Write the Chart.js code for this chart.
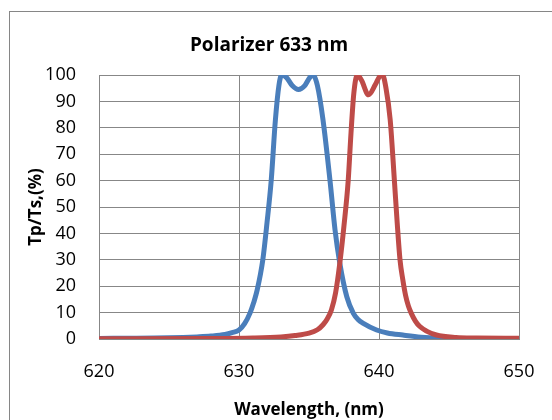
<!DOCTYPE html>
<html>
<head>
<meta charset="utf-8">
<script src="https://cdn.jsdelivr.net/npm/chart.js@4.4.0/dist/chart.umd.min.js"></script>
<style>
  html, body { margin: 0; padding: 0; background: #fff; }
</style>
</head>
<body>
<canvas id="polChart" width="552" height="420"></canvas>
<script>
// values
var blueNm = [620, 622, 624, 626, 627, 628, 629, 629.5, 630, 630.4, 630.8, 631.05, 631.3, 631.7, 632, 632.3, 632.6, 632.85, 633.05, 633.4, 633.8, 634.25, 634.7, 635.05, 635.3, 635.6, 636, 636.5, 636.86, 637.2, 637.7, 638.17, 638.5, 638.88, 639.83, 640.6, 641.7, 643, 644.4, 646, 648, 650];
var blueT  = [0.2, 0.3, 0.4, 0.6, 0.8, 1.1, 1.7, 2.4, 3.4, 5.8, 10, 13.8, 18.6, 30, 44, 60, 83, 96, 100, 99, 96, 94.5, 96, 99, 100, 96, 83, 60, 41.3, 28.7, 16, 9.7, 7.4, 5.9, 3.4, 2.3, 1.5, 0.7, 0.3, 0.2, 0.15, 0.1];

var redNm = [620, 628, 631, 633, 634, 635, 635.6, 636, 636.3, 636.6, 636.9, 637.2, 637.5, 637.8, 638, 638.2, 638.45, 638.75, 639.25, 639.75, 640.05, 640.25, 640.5, 640.8, 641.1, 641.3, 641.5, 641.7, 641.9, 642.1, 642.3, 642.6, 642.9, 643.4, 644.1, 645.5, 647, 650];
var redT  = [0.1, 0.2, 0.4, 0.8, 1.3, 2.2, 3.5, 5.4, 7.6, 11, 17.5, 28.7, 43, 60, 78, 93, 100, 98, 92.5, 96.5, 99.5, 100, 95, 83, 60, 44, 30, 22.5, 16.5, 12.5, 9.8, 6.8, 4.8, 3, 1.5, 0.6, 0.4, 0.3];

var xTicks = [620, 630, 640, 650];
var yTicks = [0, 10, 20, 30, 40, 50, 60, 70, 80, 90, 100];

function toPoints(xs, ys) {
  var pts = [];
  for (var i = 0; i < xs.length; i++) {
    pts.push({ x: xs[i], y: ys[i] });
  }
  return pts;
}

// grey frame round the whole chart
var frame = {
  id: 'frame',
  beforeDraw: function (chart) {
    var c = chart.ctx;
    c.save();
    c.strokeStyle = '#868686';
    c.lineWidth = 1;
    c.strokeRect(9.5, 11.5, 600, 500);
    c.restore();
  }
};

var gridGrey = '#878787';

new Chart(document.getElementById('polChart'), {
  type: 'scatter',
  data: {
    datasets: [{
      label: 'Tp',
      data: toPoints(blueNm, blueT),
      borderColor: '#4a7ebb',
      borderWidth: 5,
      showLine: true,
      pointRadius: 0,
      cubicInterpolationMode: 'monotone',
      order: 1
    }, {
      label: 'Ts',
      data: toPoints(redNm, redT),
      borderColor: '#be4b48',
      borderWidth: 5,
      showLine: true,
      pointRadius: 0,
      cubicInterpolationMode: 'monotone',
      order: 0
    }]
  },
  options: {
    responsive: false,
    animation: false,
    devicePixelRatio: 1,
    layout: { padding: { left: 19, right: 33, top: 0, bottom: 0 } },
    plugins: {
      legend: { display: false },
      tooltip: { enabled: false },
      title: {
        display: true,
        text: 'Polarizer 633 nm',
        color: '#000',
        font: { family: 'Open Sans', size: 19, weight: 'bold' },
        padding: { top: 34, bottom: 18.2 }
      }
    },
    scales: {
      x: {
        type: 'linear',
        min: 620,
        max: 650,
        afterBuildTicks: function (s) { s.ticks = xTicks.map(function (v) { return { value: v }; }); },
        afterFit: function (s) { s.height = 81; s.paddingLeft = 0; s.paddingRight = 0; },
        grid: { color: gridGrey, lineWidth: 1, drawTicks: false },
        border: { color: gridGrey, width: 1 },
        ticks: { color: '#000', padding: 22, font: { family: 'Open Sans', size: 18 } },
        title: {
          display: true,
          text: 'Wavelength, (nm)',
          color: '#000',
          font: { family: 'Open Sans', size: 17, weight: 'bold' },
          padding: { top: 0, bottom: 0 }
        }
      },
      y: {
        min: 0,
        max: 100,
        afterBuildTicks: function (s) { s.ticks = yTicks.map(function (v) { return { value: v }; }); },
        afterFit: function (s) { s.width = 80; s.paddingTop = 0; s.paddingBottom = 0; },
        grid: { color: gridGrey, lineWidth: 1, drawTicks: false },
        border: { color: gridGrey, width: 1 },
        ticks: { color: '#000', padding: 23, font: { family: 'Open Sans', size: 18 } },
        title: {
          display: true,
          text: 'Tp/Ts,(%)',
          color: '#000',
          font: { family: 'Open Sans', size: 17, weight: 'bold' },
          padding: { top: 7, bottom: 0 }
        }
      }
    }
  },
  plugins: [frame]
});
</script>
</body>
</html>
